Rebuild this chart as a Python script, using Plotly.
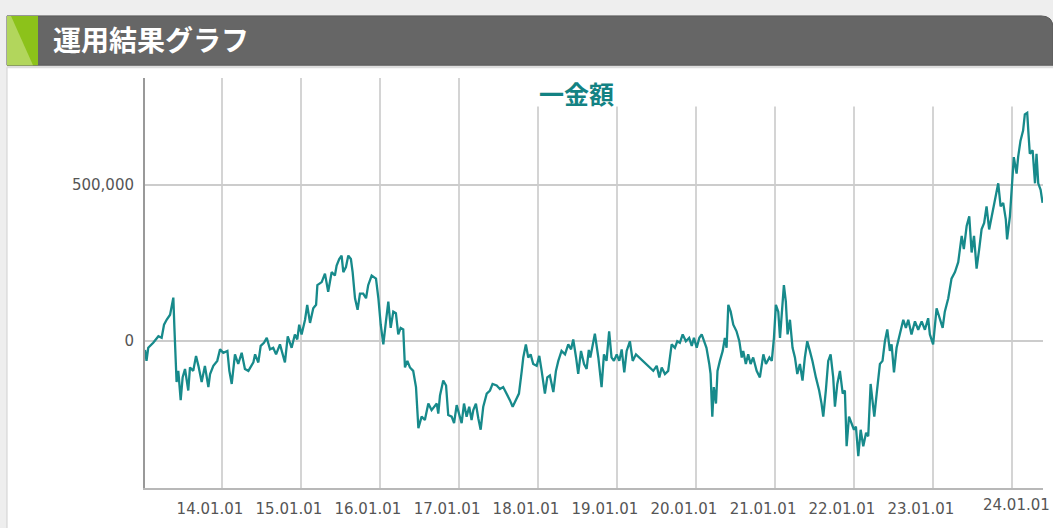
import plotly.graph_objects as go

# ---------------- data ----------------
chart_title = "運用結果グラフ"
legend_text = "一金額"
series_name = "金額"

dates = [
    "2013-01-10", "2013-01-17", "2013-01-25", "2013-02-17", "2013-03-13", "2013-03-28", "2013-04-08",
    "2013-04-20", "2013-05-06", "2013-05-13", "2013-05-21", "2013-05-26", "2013-06-02", "2013-06-05",
    "2013-06-13", "2013-06-24", "2013-07-03", "2013-07-14", "2013-07-29", "2013-08-06", "2013-08-21",
    "2013-09-03", "2013-09-14", "2013-09-29", "2013-10-14", "2013-10-30", "2013-11-07", "2013-11-22",
    "2013-12-10", "2013-12-23", "2014-01-07", "2014-01-26", "2014-02-04", "2014-02-15", "2014-03-02",
    "2014-03-17", "2014-04-02", "2014-04-17", "2014-05-03", "2014-05-26", "2014-06-03", "2014-06-18",
    "2014-06-29", "2014-07-14", "2014-07-27", "2014-08-11", "2014-08-26", "2014-09-08", "2014-09-26",
    "2014-10-19", "2014-11-01", "2014-11-19",
    "2014-12-04", "2014-12-15", "2014-12-24", "2015-01-04", "2015-01-20", "2015-01-30", "2015-02-12",
    "2015-02-27", "2015-03-12", "2015-03-18", "2015-04-07", "2015-04-22", "2015-05-07", "2015-05-23",
    "2015-06-07", "2015-06-15", "2015-06-27", "2015-07-08", "2015-07-16", "2015-07-28", "2015-08-08",
    "2015-08-20", "2015-08-28", "2015-09-08", "2015-09-20", "2015-10-01", "2015-10-16", "2015-10-29",
    "2015-11-08", "2015-11-24", "2015-12-14", "2015-12-25", "2016-01-05", "2016-01-17", "2016-01-29",
    "2016-02-09", "2016-02-20", "2016-03-03", "2016-03-15", "2016-03-26", "2016-04-06", "2016-04-18",
    "2016-04-26", "2016-05-07", "2016-05-19", "2016-06-03", "2016-06-16", "2016-06-27", "2016-07-12",
    "2016-07-27", "2016-08-12", "2016-08-27", "2016-09-20", "2016-09-27",
    "2016-10-05", "2016-10-20", "2016-11-02", "2016-11-12", "2016-11-28", "2016-12-09", "2016-12-21",
    "2017-01-02", "2017-01-13", "2017-01-24", "2017-02-05", "2017-02-17", "2017-02-28", "2017-03-08",
    "2017-03-20", "2017-03-31", "2017-04-11", "2017-04-23", "2017-05-09", "2017-05-24", "2017-06-05",
    "2017-06-24", "2017-07-09", "2017-07-24", "2017-08-09", "2017-08-24", "2017-09-06", "2017-09-21",
    "2017-10-05", "2017-10-18", "2017-10-25", "2017-11-06", "2017-11-17", "2017-11-28", "2017-12-10",
    "2017-12-26", "2018-01-07", "2018-01-18", "2018-02-02", "2018-02-13", "2018-02-25", "2018-03-13",
    "2018-03-25", "2018-04-05", "2018-04-20", "2018-05-06", "2018-05-21", "2018-06-03", "2018-06-13",
    "2018-06-26", "2018-07-06", "2018-07-19", "2018-08-02", "2018-08-14", "2018-08-24", "2018-08-31",
    "2018-09-21", "2018-10-07", "2018-10-22", "2018-11-02", "2018-11-14", "2018-11-26", "2018-12-07",
    "2018-12-18", "2018-12-31", "2019-01-12", "2019-01-23", "2019-02-04", "2019-02-15", "2019-03-02",
    "2019-03-15", "2019-03-30", "2019-04-14", "2019-05-03", "2019-05-18", "2019-06-03", "2019-06-18",
    "2019-07-04", "2019-07-16", "2019-07-27", "2019-08-11", "2019-08-26", "2019-09-11", "2019-09-26",
    "2019-10-07", "2019-10-19", "2019-11-01", "2019-11-16", "2019-12-01", "2019-12-13", "2019-12-23",
    "2020-01-05", "2020-01-17", "2020-01-28", "2020-02-07", "2020-02-19", "2020-03-03", "2020-03-09",
    "2020-03-17", "2020-03-24", "2020-04-03", "2020-04-10", "2020-04-21", "2020-05-04", "2020-05-14",
    "2020-05-22", "2020-05-30", "2020-06-10", "2020-06-22", "2020-07-07", "2020-07-20", "2020-07-31",
    "2020-08-07", "2020-08-19", "2020-08-30", "2020-09-10", "2020-09-22", "2020-10-08", "2020-10-23",
    "2020-11-08", "2020-11-20", "2020-12-06", "2020-12-17", "2020-12-27", "2021-01-05", "2021-01-16",
    "2021-01-24", "2021-02-01", "2021-02-11", "2021-02-20", "2021-02-28", "2021-03-11", "2021-03-23",
    "2021-04-03", "2021-04-14", "2021-04-26", "2021-05-08", "2021-05-19", "2021-05-30", "2021-06-11",
    "2021-06-23", "2021-07-09", "2021-07-24", "2021-08-04", "2021-08-12", "2021-08-24", "2021-09-04",
    "2021-09-15", "2021-09-27", "2021-10-05", "2021-10-16", "2021-10-28", "2021-11-10", "2021-11-20",
    "2021-11-28", "2021-12-09", "2021-12-21", "2022-01-01", "2022-01-10", "2022-01-21", "2022-02-01",
    "2022-02-13", "2022-02-26", "2022-03-08", "2022-03-19", "2022-03-29", "2022-04-05", "2022-04-16",
    "2022-05-01", "2022-05-13", "2022-05-24", "2022-06-04", "2022-06-16", "2022-06-24", "2022-07-05",
    "2022-07-17", "2022-07-29", "2022-08-17", "2022-08-29", "2022-09-09", "2022-09-24", "2022-10-10",
    "2022-10-25", "2022-11-10", "2022-11-25", "2022-12-10", "2022-12-18", "2023-01-02", "2023-01-18",
    "2023-02-02", "2023-02-15", "2023-02-25", "2023-03-13", "2023-03-28", "2023-04-13", "2023-04-28",
    "2023-05-14", "2023-05-24", "2023-06-06", "2023-06-18", "2023-06-29", "2023-07-10", "2023-07-22",
    "2023-08-03", "2023-08-14", "2023-08-26", "2023-09-06", "2023-09-18", "2023-09-29", "2023-10-10",
    "2023-10-19", "2023-10-30", "2023-11-10", "2023-11-22", "2023-12-04", "2023-12-10", "2023-12-23",
    "2024-01-04", "2024-01-10", "2024-01-23", "2024-01-30", "2024-02-10", "2024-02-22", "2024-03-01",
    "2024-03-12", "2024-03-18", "2024-03-24", "2024-04-06", "2024-04-17", "2024-04-24", "2024-05-02",
    "2024-05-13", "2024-05-22",
]

values = [
    -30000, -65000, -23000, -7000, 14000, 9000, 51000,
    67000, 83000, 115000, 138000, 41000, -75000, -133000,
    -97000, -191000, -118000, -91000, -160000, -86000, -97000,
    -49000, -81000, -133000, -81000, -149000, -107000, -81000,
    -65000, -28000, -39000, -33000, -97000, -139000, -44000,
    -75000, -39000, -91000, -97000, -70000, -44000, -70000,
    -17000, -7000, 9000, -28000, -23000, -44000, -12000,
    -70000, 14000, -23000,
    20000, 4000, 51000, 20000, 67000, 115000, 57000,
    104000, 115000, 178000, 188000, 215000, 157000, 220000,
    209000, 241000, 262000, 273000, 220000, 236000, 273000,
    262000, 220000, 136000, 99000, 151000, 151000, 136000,
    178000, 209000, 199000, 136000, 51000, -12000, 62000,
    125000, 41000, 93000, 88000, 20000, 41000, 36000,
    -86000, -65000, -86000, -97000, -149000, -281000, -244000,
    -255000, -202000, -223000, -202000, -234000,
    -176000, -128000, -144000, -239000, -244000, -265000, -207000,
    -234000, -265000, -202000, -244000, -212000, -255000, -223000,
    -202000, -249000, -286000, -212000, -170000, -160000, -139000,
    -144000, -155000, -149000, -170000, -191000, -212000, -191000,
    -170000, -97000, -54000, -12000, -54000, -44000, -75000,
    -81000, -49000, -97000, -170000, -118000, -112000, -165000,
    -97000, -65000, -33000, -44000, -12000, -28000, 4000,
    -54000, -107000, -33000, -75000, -91000, -30000, -54000,
    22000, -54000, -149000, -44000, -65000, 30000, -54000,
    -65000, -44000, -65000, -28000, -102000, -33000, -2000,
    -65000, -44000, -54000, -65000, -75000, -86000, -97000,
    -81000, -118000, -86000, -107000, -97000, -12000, -23000,
    -2000, -7000, 20000, -2000, 9000, -17000, 9000,
    -23000, 9000, 20000, -2000, -23000, -75000, -107000,
    -244000, -149000, -202000, -97000, -65000, -33000, 9000,
    -23000, 115000, 93000, 51000, 30000, -2000, -54000,
    -33000, -75000, -44000, -75000, -54000, -97000, -118000,
    -44000, -75000, -54000, -65000, 9000, 115000, 93000,
    9000, 93000, 178000, 125000, 20000, 67000, -23000,
    -54000, -107000, -75000, -128000, -54000, -2000, -33000,
    -65000, -118000, -160000, -202000, -244000, -160000, -65000,
    -44000, -118000, -212000, -139000, -97000, -170000, -160000,
    -339000, -244000, -265000, -286000, -276000, -371000, -286000,
    -339000, -296000, -307000, -139000, -191000, -244000, -170000,
    -75000, -65000, -2000, 36000, -33000, -12000, -102000,
    -23000, 9000, 67000, 41000, 67000, 20000, 62000,
    35000, 62000, 35000, 72000, 20000, -12000, 104000,
    72000, 41000, 93000, 136000, 199000, 220000, 252000,
    336000, 294000, 368000, 399000, 283000, 336000, 231000,
    294000, 357000, 378000, 431000, 357000, 399000, 431000,
    473000, 505000, 431000, 442000, 389000, 325000, 399000,
    505000, 589000, 536000, 589000, 642000, 674000, 726000,
    731000, 663000, 600000, 611000, 505000, 600000, 505000,
    484000, 442000,
]

tick_dates = ["2014-01-01", "2015-01-01", "2016-01-01", "2017-01-01", "2018-01-01", "2019-01-01",
              "2020-01-01", "2021-01-01", "2022-01-01", "2023-01-01", "2024-01-01"]
tick_labels = ["14.01.01", "15.01.01", "16.01.01", "17.01.01", "18.01.01", "19.01.01",
               "20.01.01", "21.01.01", "22.01.01", "23.01.01", "24.01.01"]
y_tick_values = [0, 500000]
x_range = ["2013-01-10", "2024-05-24"]
y_range = [-473000, 843000]

# ---------------- layout geometry ----------------
W, H = 1053, 528
L, R, T, B = 145, 10, 78, 34
PW = W - L - R
PH = H - T - B


def fx(px):
    return (px - L) / PW


def fy(py):
    return (H - B - py) / PH


LINE_COLOR = "#178a8b"
TICK_FONT = dict(family="DejaVu Sans", size=15, color="#555555")

fig = go.Figure()
fig.add_trace(go.Scatter(
    x=dates, y=values, mode="lines", name=series_name,
    line=dict(color=LINE_COLOR, width=2.3), showlegend=False,
    hovertemplate="%{x|%y.%m.%d}<br>%{y:,}<extra></extra>",
))

shapes = []
# white panel with light border
shapes.append(dict(type="rect", xref="paper", yref="paper", layer="below",
                   x0=fx(7), x1=fx(1070), y0=fy(540), y1=fy(67),
                   fillcolor="white", line=dict(color="#d0d0d0", width=1)))
# thin separator strip under the header
shapes.append(dict(type="rect", xref="paper", yref="paper", layer="below",
                   x0=fx(7), x1=fx(1070), y0=fy(68), y1=fy(65),
                   fillcolor="#dedede", line=dict(width=0)))
# dark header bar with rounded top-right corner
rx, ry = 12 / PW, 12 / PH
hx0, hx1 = fx(7), fx(1053)
hyt, hyb = fy(15), fy(65)
header_path = (f"M {hx0},{hyb} L {hx0},{hyt} L {hx1 - rx},{hyt} "
               f"Q {hx1},{hyt} {hx1},{hyt - ry} L {hx1},{hyb} Z")
shapes.append(dict(type="path", xref="paper", yref="paper", layer="below",
                   path=header_path, fillcolor="#666666", line=dict(color="#5a5a5a", width=1)))
# green accent block
shapes.append(dict(type="rect", xref="paper", yref="paper", layer="below",
                   x0=fx(7), x1=fx(38), y0=fy(65), y1=fy(15),
                   fillcolor="#8cc21a", line=dict(width=0)))
gpath = (f"M {fx(7)},{fy(15)} L {fx(11)},{fy(15)} L {fx(33)},{fy(65)} L {fx(7)},{fy(65)} Z")
shapes.append(dict(type="path", xref="paper", yref="paper", layer="below",
                   path=gpath, fillcolor="#b2d65c", line=dict(width=0)))
# white box behind the legend text (hides top of the gridlines)
shapes.append(dict(type="rect", xref="paper", yref="paper", layer="above",
                   x0=fx(525), x1=fx(1046), y0=fy(107), y1=fy(76),
                   fillcolor="white", line=dict(width=0)))

annotations = [
    dict(text=f"<b>{chart_title}</b>", xref="paper", yref="paper", x=fx(51), y=fy(38),
         xanchor="left", yanchor="middle", showarrow=False,
         font=dict(family="Noto Sans CJK JP", size=28, color="white")),
    dict(text=f"<b>{legend_text}</b>", xref="paper", yref="paper", x=fx(576), y=fy(93),
         xanchor="center", yanchor="middle", showarrow=False,
         font=dict(family="Noto Sans CJK JP", size=25, color="#138283")),
    dict(text=tick_labels[-1], xref="x", yref="paper", x=tick_dates[-1], y=0,
         xanchor="center", yanchor="top", xshift=5, yshift=-6, showarrow=False,
         font=TICK_FONT),
]

fig.update_layout(
    width=W, height=H,
    margin=dict(l=L, r=R, t=T, b=B, pad=0),
    paper_bgcolor="#eeeeee",
    plot_bgcolor="white",
    showlegend=False,
    shapes=shapes,
    annotations=annotations,
    xaxis=dict(
        type="date", range=x_range,
        tickmode="array", tickvals=tick_dates, ticktext=tick_labels[:-1] + [""],
        ticks="", ticklabelshift=-12, ticklabelstandoff=6,
        showgrid=True, gridcolor="#d4d4d4", gridwidth=1.5,
        showline=True, linecolor="#b8b8b8", linewidth=1.5,
        zeroline=False,
        tickfont=TICK_FONT,
    ),
    yaxis=dict(
        range=y_range, tickmode="array", tickvals=y_tick_values, tickformat=",",
        ticks="", ticklabelstandoff=6,
        showgrid=True, gridcolor="#cccccc", gridwidth=1.5,
        showline=True, linecolor="#999999", linewidth=2,
        zeroline=False,
        tickfont=TICK_FONT,
    ),
)

fig.write_html("out.html")
